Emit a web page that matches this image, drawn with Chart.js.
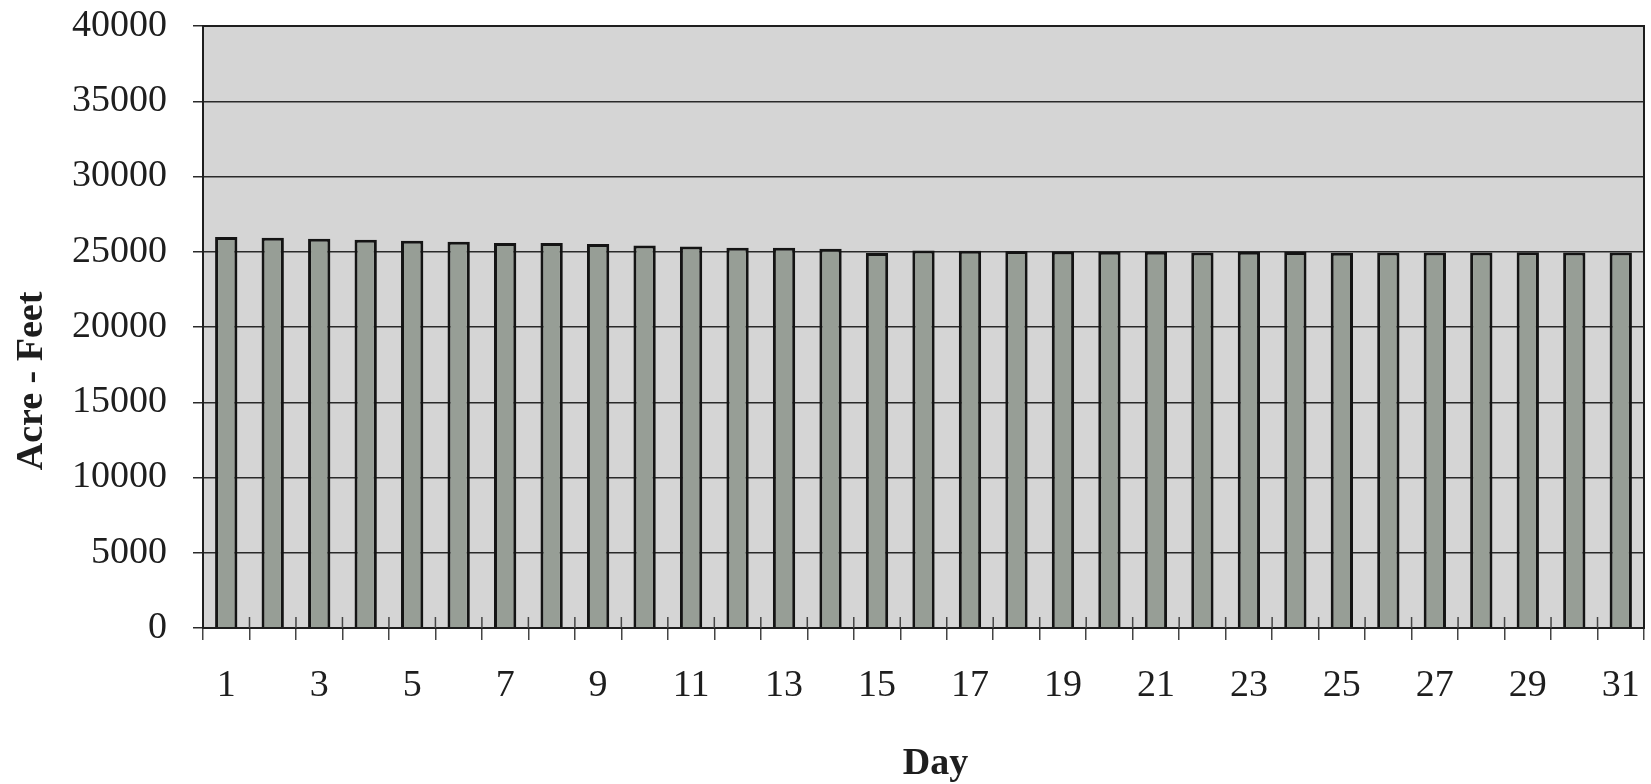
<!DOCTYPE html>
<html>
<head>
<meta charset="utf-8">
<title>Acre - Feet by Day</title>
<script src="https://cdn.jsdelivr.net/npm/chart.js@4.4.1/dist/chart.umd.min.js"></script>
<style>
    html, body { margin: 0; padding: 0; background: #ffffff; }
    #wrap { width: 1651px; height: 784px; }
</style>
</head>
<body>
<div id="wrap"><canvas id="storageChart" width="1651" height="784"></canvas></div>
<script>
var days = ['1', '2', '3', '4', '5', '6', '7', '8', '9', '10',
    '11', '12', '13', '14', '15', '16', '17', '18', '19', '20',
    '21', '22', '23', '24', '25', '26', '27', '28', '29', '30', '31'];

var acreFeet = [25980, 25930, 25860, 25800, 25730, 25660, 25580, 25580, 25510, 25420,
    25350, 25270, 25260, 25200, 24910, 25090, 25070, 25050, 25020, 25000,
    25000, 24950, 25000, 24980, 24930, 24950, 24950, 24950, 24970, 24950, 24950];

var yTicks = [0, 5000, 10000, 15000, 20000, 25000, 30000, 35000, 40000];

var yTitle = 'Acre - Feet';
var xTitle = 'Day';

var serif = '"Liberation Serif", "Times New Roman", serif';
var ink = '#1e1e1e';

// grey plot area, drawn under the grid
var plotBackground = {
    id: 'plotBackground',
    beforeDraw: function (chart) {
        var a = chart.chartArea;
        var ctx = chart.ctx;
        ctx.save();
        ctx.fillStyle = '#d5d5d5';
        ctx.fillRect(a.left, a.top, a.right - a.left, a.bottom - a.top);
        ctx.restore();
    }
};

// frame, short tick marks inside the plot and the two axis titles
var plotExtras = {
    id: 'plotExtras',
    afterDraw: function (chart) {
        var a = chart.chartArea;
        var ctx = chart.ctx;
        var x = chart.scales.x;
        ctx.save();

        ctx.strokeStyle = ink;
        ctx.lineWidth = 2;
        ctx.strokeRect(a.left, a.top, a.right - a.left, a.bottom - a.top);

        ctx.lineWidth = 1.5;
        ctx.strokeStyle = '#444';
        ctx.beginPath();
        for (var i = 1; i < days.length; i++) {
            var px = (x.getPixelForValue(i - 1) + x.getPixelForValue(i)) / 2;
            ctx.moveTo(px, a.bottom);
            ctx.lineTo(px, a.bottom - 11);
        }
        ctx.stroke();

        ctx.fillStyle = ink;
        ctx.font = 'bold 38px ' + serif;
        ctx.textAlign = 'center';
        ctx.textBaseline = 'middle';

        ctx.save();
        ctx.translate(32, (a.top + a.bottom) / 2 + 54);
        ctx.rotate(-Math.PI / 2);
        ctx.fillText(yTitle, 0, 0);
        ctx.restore();

        ctx.fillText(xTitle, (a.left + a.right) / 2 + 12, 764);
        ctx.restore();
    }
};

function loadStorageChart() {
    var data = {
        labels: days,
        datasets: [
            {
                label: yTitle,
                data: acreFeet,
                backgroundColor: '#979e96',
                borderColor: '#141414',
                borderWidth: 3,
                borderSkipped: 'bottom',
                categoryPercentage: 1.0,
                barPercentage: 0.48
            }
        ]
    };

    var ctx = document.getElementById('storageChart');
    var storageChart = new Chart(ctx, {
        type: 'bar',
        data: data,
        options: {
            responsive: false,
            animation: false,
            layout: {
                padding: { top: 26, right: 7, left: 0, bottom: 0 }
            },
            plugins: {
                legend: { display: false },
                title: { display: false },
                tooltip: { enabled: false }
            },
            scales: {
                x: {
                    offset: true,
                    grid: {
                        offset: true,
                        drawOnChartArea: false,
                        drawTicks: true,
                        tickLength: 12,
                        color: '#444',
                        lineWidth: 1.5
                    },
                    border: { color: ink, width: 2 },
                    ticks: {
                        autoSkip: false,
                        maxRotation: 0,
                        padding: 23,
                        color: ink,
                        font: { family: serif, size: 38 },
                        callback: function (value, index) {
                            return index % 2 === 0 ? days[index] : '';
                        }
                    },
                    afterFit: function (scale) {
                        scale.height = 156;
                        scale.paddingLeft = 0;
                        scale.paddingRight = 0;
                    }
                },
                y: {
                    min: 0,
                    max: 40000,
                    afterBuildTicks: function (scale) {
                        scale.ticks = yTicks.map(function (v) { return { value: v }; });
                    },
                    grid: {
                        color: '#2a2a2a',
                        lineWidth: 1.5,
                        drawTicks: true,
                        tickLength: 10
                    },
                    border: { color: ink, width: 2 },
                    ticks: {
                        padding: 26,
                        color: ink,
                        font: { family: serif, size: 38 },
                        callback: function (value) {
                            return String(value);
                        }
                    },
                    afterFit: function (scale) {
                        scale.width = 203;
                        scale.paddingTop = 0;
                        scale.paddingBottom = 0;
                    }
                }
            }
        },
        plugins: [plotBackground, plotExtras]
    });
}

loadStorageChart();
</script>
</body>
</html>
